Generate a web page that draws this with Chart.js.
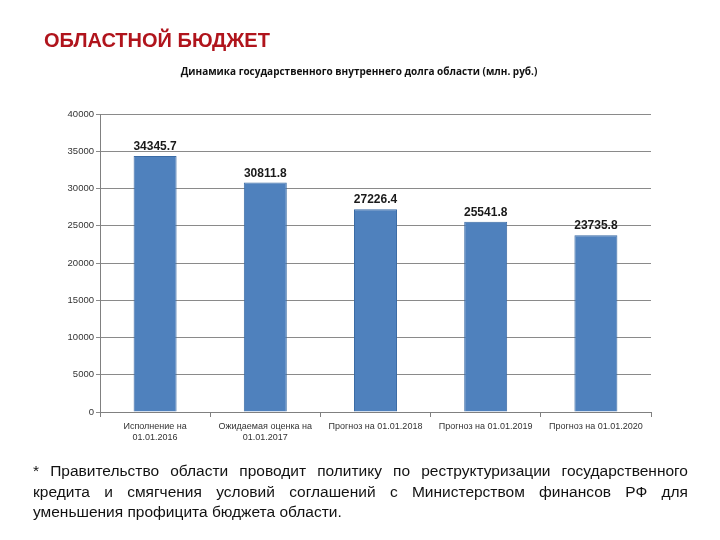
<!DOCTYPE html>
<html>
<head>
<meta charset="utf-8">
<script src="https://cdn.jsdelivr.net/npm/chart.js@4/dist/chart.umd.min.js"></script>
<style>
  html, body { margin:0; padding:0; background:#fff; }
  #wrap { position:relative; width:720px; height:540px; overflow:hidden; }
  #c { position:absolute; left:0; top:0; }
  #head { position:absolute; left:44px; top:29px; font:bold 20px "Liberation Sans", Arial, sans-serif; color:#B0141C; white-space:nowrap; }
  #ttl { position:absolute; left:0; width:718px; top:64px; text-align:center; font:bold 10px "Open Sans", "Noto Sans", sans-serif; color:#111; }
  #note { position:absolute; left:33px; width:655px; top:461px; font:15.5px "Liberation Sans", Arial, sans-serif; color:#111; line-height:20.5px; }
  #note div.j { text-align:justify; text-align-last:justify; }
</style>
</head>
<body>
<div id="wrap">
  <canvas id="c" width="720" height="540"></canvas>
  <div id="head">ОБЛАСТНОЙ БЮДЖЕТ</div>
  <div id="ttl">Динамика государственного внутреннего долга области (млн. руб.)</div>
  <div id="note">
    <div class="j">* Правительство области проводит политику по реструктуризации государственного</div>
    <div class="j">кредита и смягчения условий соглашений с Министерством финансов РФ для</div>
    <div>уменьшения профицита бюджета области.</div>
  </div>
</div>
<script>
const categories = [
  ["Исполнение на", "01.01.2016"],
  ["Ожидаемая оценка на", "01.01.2017"],
  "Прогноз на 01.01.2018",
  "Прогноз на 01.01.2019",
  "Прогноз на 01.01.2020"
];
const debtValues = [34345.7, 30811.8, 27226.4, 25541.8, 23735.8];
const valueLabels = ["34345.7", "30811.8", "27226.4", "25541.8", "23735.8"];

const barLabels = {
  id: 'barLabels',
  afterDatasetsDraw(chart) {
    const ctx = chart.ctx;
    const meta = chart.getDatasetMeta(0);
    ctx.save();
    ctx.font = 'bold 12px "Liberation Sans", Arial, sans-serif';
    ctx.fillStyle = '#1a1a1a';
    ctx.textAlign = 'center';
    ctx.textBaseline = 'bottom';
    meta.data.forEach((bar, i) => {
      ctx.fillText(valueLabels[i], bar.x, bar.y - 3);
    });
    ctx.restore();
  }
};

new Chart(document.getElementById('c'), {
  type: 'bar',
  data: {
    labels: categories,
    datasets: [{
      data: debtValues,
      backgroundColor: '#4F81BD',
      borderColor: '#3A6BA5',
      borderWidth: 1,
      barPercentage: 0.39,
      categoryPercentage: 1.0
    }]
  },
  options: {
    responsive: false,
    animation: false,
    devicePixelRatio: 1,
    layout: { padding: { top: 114, left: 0, right: 69, bottom: 88 } },
    plugins: { legend: { display: false }, tooltip: { enabled: false }, title: { display: false } },
    scales: {
      x: {
        afterFit(s) { s.height = 40; },
        grid: { drawOnChartArea: false, drawTicks: true, tickLength: 5, color: '#808080' },
        border: { color: '#808080', width: 1 },
        ticks: { color: '#333', font: { family: '"Liberation Sans", Arial, sans-serif', size: 9 }, maxRotation: 0, autoSkip: false, padding: 4 }
      },
      y: {
        min: 0, max: 40000,
        afterFit(s) { s.width = 100; },
        grid: { color: '#8a8a8a', lineWidth: 1, tickLength: 4 },
        border: { color: '#808080', width: 1 },
        ticks: { stepSize: 5000, color: '#333', font: { family: '"Liberation Sans", Arial, sans-serif', size: 9.5 }, padding: 2,
                 callback: (v) => String(v) }
      }
    }
  },
  plugins: [barLabels]
});
</script>
</body>
</html>
